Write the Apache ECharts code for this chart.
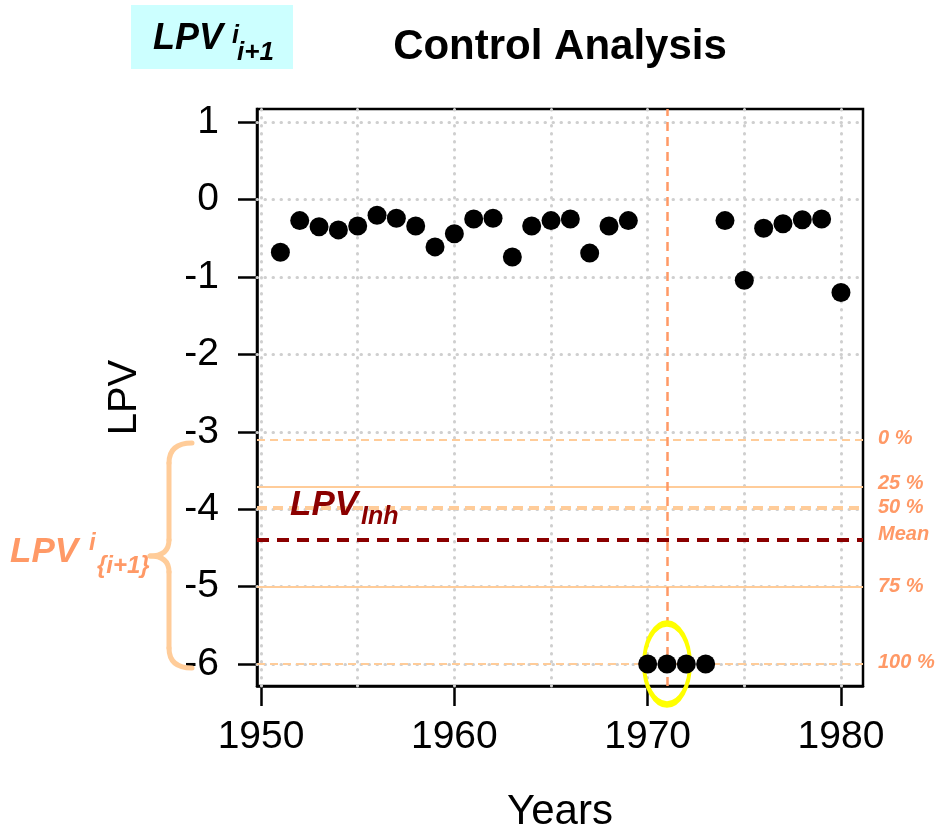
<!DOCTYPE html>
<html>
<head>
<meta charset="utf-8">
<script src="https://cdn.jsdelivr.net/npm/echarts@6/dist/echarts.min.js"></script>
<style>
  html, body { margin: 0; padding: 0; background: #ffffff; }
  #chart { width: 939px; height: 838px; }
</style>
</head>
<body>
<div id="chart"></div>
<script>
// Yearly LPV values, 1951–1980
const years = [1951, 1952, 1953, 1954, 1955, 1956, 1957, 1958, 1959, 1960,
               1961, 1962, 1963, 1964, 1965, 1966, 1967, 1968, 1969, 1970,
               1971, 1972, 1973, 1974, 1975, 1976, 1977, 1978, 1979, 1980];
const lpv = [-0.68, -0.27, -0.35, -0.39, -0.34, -0.20, -0.24, -0.34, -0.61, -0.44,
             -0.25, -0.24, -0.74, -0.34, -0.27, -0.25, -0.69, -0.34, -0.27, -6.00,
             -6.00, -6.00, -6.00, -0.27, -1.04, -0.37, -0.31, -0.26, -0.25, -1.20];

// Axis ticks and grid positions
const xTickValues = [1950, 1960, 1970, 1980];
const xGridValues = [1950, 1955, 1960, 1965, 1970, 1975, 1980];
const yTickValues = [-6, -5, -4, -3, -2, -1, 0, 1];

// Reference levels of the control distribution
const refLabels = ['0 %', '25 %', '50 %', 'Mean', '75 %', '100 %'];
const refValues = [-3.10, -3.71, -3.98, -4.40, -5.00, -6.00];

// Highlighted control year
const controlYear = 1971;
const controlValue = -6.00;

// Line styles for each reference level (same order as refLabels)
const PEACH = '#FFCC99';
const SALMON = '#FF9966';
const DARKRED = '#8B0000';
const refStyles = [
  { color: PEACH, width: 2, type: [8, 5] },
  { color: PEACH, width: 2, type: 'solid' },
  { color: PEACH, width: 4, type: [10, 6] },
  { color: DARKRED, width: 4, type: [12, 8] },
  { color: PEACH, width: 2, type: 'solid' },
  { color: PEACH, width: 2, type: [8, 5] }
];
const refLabelShift = [-1, -3, 0, -6, 0, -2];

const FONT = '"Liberation Sans", Arial, Helvetica, sans-serif';

const chart = echarts.init(document.getElementById('chart'), null, { renderer: 'canvas' });

const gridDots = {
  color: '#CFCFCF', width: 3, type: [0.5, 7.5], cap: 'round'
};

// curly brace drawn from quadratic curves and straight segments
const braceStyle = { stroke: PEACH, lineWidth: 5, fill: null, lineCap: 'round' };
function braceCurve(x1, y1, cx, cy, x2, y2) {
  return { type: 'bezierCurve', z: 10, silent: true,
           shape: { x1: x1, y1: y1, cpx1: cx, cpy1: cy, x2: x2, y2: y2 }, style: braceStyle };
}
function braceLine(x1, y1, x2, y2) {
  return { type: 'line', z: 10, silent: true,
           shape: { x1: x1, y1: y1, x2: x2, y2: y2 }, style: braceStyle };
}
const brace = [
  braceCurve(192, 443, 169, 443, 169, 463),
  braceLine(169, 463, 169, 540),
  braceCurve(169, 540, 169, 556, 150, 556),
  braceCurve(150, 556, 169, 556, 169, 572),
  braceLine(169, 572, 169, 648),
  braceCurve(169, 648, 169, 668, 192, 668)
];

function label(x, y, text, color, size) {
  return { type: 'text', x: x, y: y, z: 10, silent: true,
           style: { text: text, fill: color, font: 'italic bold ' + size + 'px ' + FONT,
                    align: 'left', verticalAlign: 'middle' } };
}

const option = {
  animation: false,
  backgroundColor: '#ffffff',
  grid: {
    left: 257, right: 76, top: 109, bottom: 151,
    show: true, borderColor: '#000000', borderWidth: 2.5, backgroundColor: 'transparent'
  },
  xAxis: {
    type: 'value',
    min: 1949.79, max: 1981.14,
    name: 'Years', nameLocation: 'middle', nameGap: 105,
    nameTextStyle: { fontFamily: FONT, fontSize: 42, color: '#000' },
    axisLine: { show: true, onZero: false, lineStyle: { color: '#000', width: 2.5 } },
    axisTick: { show: true, length: 20, customValues: xTickValues, lineStyle: { color: '#000', width: 2.5 } },
    axisLabel: { customValues: xTickValues, margin: 32, fontFamily: FONT, fontSize: 39, color: '#000',
                 formatter: v => String(Math.round(v)) },
    splitLine: { show: false }
  },
  yAxis: {
    type: 'value',
    min: -6.284, max: 1.172,
    name: 'LPV', nameLocation: 'middle', nameGap: 112,
    nameTextStyle: { fontFamily: FONT, fontSize: 40, color: '#000' },
    axisLine: { show: true, onZero: false, lineStyle: { color: '#000', width: 2.5 } },
    axisTick: { show: true, length: 19, customValues: yTickValues, lineStyle: { color: '#000', width: 2.5 } },
    axisLabel: { customValues: yTickValues, margin: 38, fontFamily: FONT, fontSize: 39, color: '#000',
                 formatter: v => String(Math.round(v)) },
    splitLine: { show: false }
  },
  series: [
    {
      // dotted background grid
      type: 'scatter', data: [], silent: true, z: 1,
      markLine: {
        silent: true, symbol: ['none', 'none'], animation: false,
        label: { show: false },
        lineStyle: gridDots,
        data: xGridValues.map(v => ({ xAxis: v })).concat(yTickValues.map(v => ({ yAxis: v })))
      }
    },
    {
      // reference levels and the control year marker
      type: 'scatter', data: [], silent: true, z: 2,
      markLine: {
        silent: true, symbol: ['none', 'none'], animation: false,
        data: refValues.map((v, i) => ({
          yAxis: v,
          lineStyle: refStyles[i],
          label: {
            show: true, position: 'end', distance: 15,
            formatter: refLabels[i],
            offset: [0, refLabelShift[i]],
            color: SALMON, fontFamily: FONT, fontSize: 20,
            fontWeight: 'bold', fontStyle: 'italic'
          }
        })).concat([{
          xAxis: controlYear,
          lineStyle: { color: SALMON, width: 2.5, type: [9, 6] },
          label: { show: false }
        }])
      }
    },
    {
      type: 'scatter', z: 5,
      symbol: 'circle', symbolSize: 19,
      itemStyle: { color: '#000000', opacity: 1 },
      data: years.map((y, i) => [y, lpv[i]]),
      markPoint: {
        silent: true, animation: false,
        symbol: 'circle', symbolSize: [46, 81],
        itemStyle: { color: 'transparent', borderColor: '#FFFF00', borderWidth: 5, opacity: 1 },
        label: { show: false },
        data: [{ coord: [controlYear, controlValue] }]
      }
    }
  ],
  graphic: [
    // chart title
    { type: 'text', x: 560, y: 47, z: 10, silent: true,
      style: { text: 'Control Analysis', fill: '#000', font: 'bold 42px ' + FONT, align: 'center', verticalAlign: 'middle' } },
    // boxed symbol in the top left corner
    { type: 'rect', x: 131, y: 5, z: 9, silent: true, shape: { width: 162, height: 64 }, style: { fill: '#CCFFFF' } },
    label(153, 39, 'LPV', '#000', 36),
    label(232, 36, 'i', '#000', 25),
    label(237, 53, 'i+1', '#000', 26),
    // inherent LPV label
    label(290, 505, 'LPV', DARKRED, 35),
    label(361, 517, 'Inh', DARKRED, 25),
    // label of the control distribution
    label(10, 552, 'LPV', SALMON, 35),
    label(89, 543, 'i', SALMON, 24),
    label(97, 566, '{i+1}', SALMON, 24)
  ].concat(brace)
};

chart.setOption(option);
</script>
</body>
</html>
